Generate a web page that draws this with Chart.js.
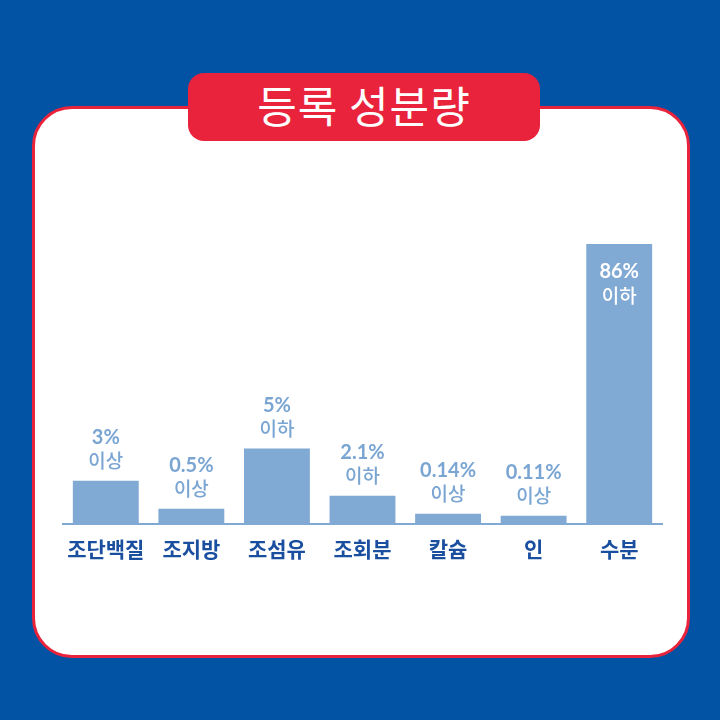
<!DOCTYPE html>
<html>
<head>
<meta charset="utf-8">
<script src="https://cdn.jsdelivr.net/npm/chart.js@4"></script>
<style>
    html, body { margin: 0; padding: 0; }
    body { width: 720px; height: 720px; background: #0353a4; position: relative; overflow: hidden; }
    .panel {
        position: absolute; left: 32px; top: 106px; width: 652px; height: 546px;
        background: #fff; border: 3px solid #e8233b; border-radius: 40px;
    }
    .title {
        position: absolute; left: 188px; top: 73px; width: 352px; height: 68px;
        background: #e8233b; border-radius: 16px; color: #fff;
        font-family: 'Noto Sans CJK KR', sans-serif; font-size: 43px; line-height: 62px;
        text-align: center; letter-spacing: 1px;
    }
    .wrap { position: absolute; left: 0; top: 0; width: 720px; height: 720px; }
</style>
</head>
<body>
<div class="panel"></div>
<div class="title">등록 성분량</div>
<div class="wrap"><canvas id="chart"></canvas></div>
<script>
const categories = ['조단백질', '조지방', '조섬유', '조회분', '칼슘', '인', '수분'];
// drawn bar heights (the picture is not to scale)
const barHeights = [43, 15, 75, 28, 10, 8, 279];
const amountLabels = ['3%', '0.5%', '5%', '2.1%', '0.14%', '0.11%', '86%'];
const limitLabels = ['이상', '이상', '이하', '이하', '이상', '이상', '이하'];

const valueLabels = {
    id: 'valueLabels',
    afterDatasetsDraw(chart) {
        const ctx = chart.ctx;
        const bars = chart.getDatasetMeta(0).data;
        const numFont = "bold 20px Lato, sans-serif";
        const krFont = "500 19px 'Noto Sans CJK KR', sans-serif";
        ctx.save();
        ctx.textAlign = 'center';
        ctx.textBaseline = 'middle';
        bars.forEach((bar, i) => {
            const inside = i === bars.length - 1;
            ctx.fillStyle = inside ? '#ffffff' : '#7aa5d3';
            const y1 = inside ? bar.y + 27 : bar.y - 43;
            const y2 = inside ? bar.y + 52 : bar.y - 20;
            ctx.font = numFont;
            ctx.fillText(amountLabels[i], bar.x, y1);
            ctx.font = krFont;
            ctx.fillText(limitLabels[i], bar.x, y2);
        });
        ctx.restore();
    }
};

const ctx = document.getElementById('chart').getContext('2d');
new Chart(ctx, {
    type: 'bar',
    data: {
        labels: categories,
        datasets: [{
            data: barHeights,
            backgroundColor: '#80a9d4',
            borderWidth: 0,
            barPercentage: 0.77,
            categoryPercentage: 1
        }]
    },
    options: {
        responsive: true,
        maintainAspectRatio: false,
        animation: false,
        layout: {
            padding: { left: 63, right: 58, top: 223, bottom: 145 }
        },
        plugins: {
            legend: { display: false },
            tooltip: { enabled: false }
        },
        scales: {
            x: {
                grid: { display: false, drawTicks: false },
                border: { display: true, color: '#80a9d4', width: 2 },
                ticks: {
                    color: '#1a4f9f',
                    padding: 13,
                    font: { family: "'Noto Sans CJK KR', sans-serif", size: 21, weight: 'bold' }
                }
            },
            y: {
                display: false,
                min: 0,
                max: 300
            }
        }
    },
    plugins: [valueLabels]
});
</script>
</body>
</html>
